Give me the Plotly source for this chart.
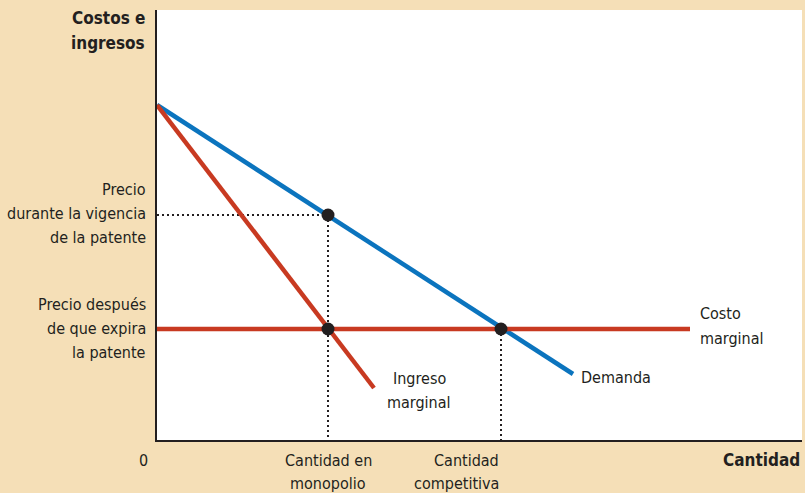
import plotly.graph_objects as go

# ---- data (arbitrary units: quantity, price) ----
demand_q = [0, 416]
demand_p = [335, 66]
mr_q = [0, 217]
mr_p = [335, 52]
mc_q = [0, 533]
mc_p = [111, 111]
q_monopoly = 171
q_competitive = 344
p_monopoly = 225
p_competitive = 111

x_range = [0, 645]
y_range = [0, 430]

BLUE = "#0B74BE"
RED = "#C83A21"
INK = "#231F20"
BEIGE = "#F5DFB7"
FONT = "DejaVu Sans Condensed, Liberation Sans Narrow, Roboto, sans-serif"

fig = go.Figure()

# dotted guides
dot = dict(color=INK, width=2, dash="2px,3px")
fig.add_trace(go.Scatter(x=[0, q_monopoly], y=[p_monopoly, p_monopoly], mode="lines", line=dot, hoverinfo="skip"))
fig.add_trace(go.Scatter(x=[q_monopoly, q_monopoly], y=[p_monopoly, 0], mode="lines", line=dot, hoverinfo="skip"))
fig.add_trace(go.Scatter(x=[q_competitive, q_competitive], y=[p_competitive, 0], mode="lines", line=dot, hoverinfo="skip"))

# curves
fig.add_trace(go.Scatter(x=demand_q, y=demand_p, mode="lines", line=dict(color=BLUE, width=4.5), name="Demanda"))
fig.add_trace(go.Scatter(x=mr_q, y=mr_p, mode="lines", line=dict(color=RED, width=4.5), name="Ingreso marginal"))
fig.add_trace(go.Scatter(x=mc_q, y=mc_p, mode="lines", line=dict(color=RED, width=4.5), name="Costo marginal"))

# equilibrium points
fig.add_trace(go.Scatter(x=[q_monopoly, q_monopoly, q_competitive],
                         y=[p_monopoly, p_competitive, p_competitive],
                         mode="markers", marker=dict(color=INK, size=13), hoverinfo="skip"))

annotations = []

def txt(lines, x, y, anchor, step=24, bold=False, size=16):
    # positions given in axis units, converted to paper fraction so labels outside the axes stay visible
    px = (x - x_range[0]) / (x_range[1] - x_range[0])
    py = (y - y_range[0]) / (y_range[1] - y_range[0])
    for i, line in enumerate(lines):
        t = f"<b>{line}</b>" if bold else line
        annotations.append(dict(text=t, x=px, y=py, xref="paper", yref="paper", xanchor=anchor, yanchor="middle",
                                yshift=-i * step, showarrow=False,
                                font=dict(family=FONT, size=size, color=INK)))

# axis titles
txt(["Costos e", "ingresos"], -10, 422, "right", step=25, bold=True, size=17)
txt(["Cantidad"], 645, -20, "right", bold=True, size=17)

# y tick labels
txt(["Precio", "durante la vigencia", "de la patente"], -9, p_monopoly + 25, "right")
txt(["Precio después", "de que expira", "la patente"], -9, p_competitive + 25, "right")

# x tick labels
txt(["0"], -14, -20, "center")
txt(["Cantidad en", "monopolio"], q_monopoly, -20, "center", step=23)
txt(["Cantidad", "competitiva"], q_competitive, -20, "right", step=23)

# curve labels
txt(["Ingreso", "marginal"], 262, 62, "center")
txt(["Demanda"], 422, 63, "left")
txt(["Costo", "marginal"], 541, 127, "left", step=25)

fig.update_layout(
    width=805, height=493,
    margin=dict(l=157, r=3, t=10, b=53),
    paper_bgcolor=BEIGE, plot_bgcolor="white",
    showlegend=False,
    annotations=annotations,
    xaxis=dict(range=x_range, showgrid=False, zeroline=False, showticklabels=False,
               showline=True, linecolor=INK, linewidth=1.5, fixedrange=True),
    yaxis=dict(range=y_range, showgrid=False, zeroline=False, showticklabels=False,
               showline=True, linecolor=INK, linewidth=1.5, fixedrange=True),
)

fig.write_html("out.html", config={"displayModeBar": False},
               post_script="document.body.style.margin='0';")
